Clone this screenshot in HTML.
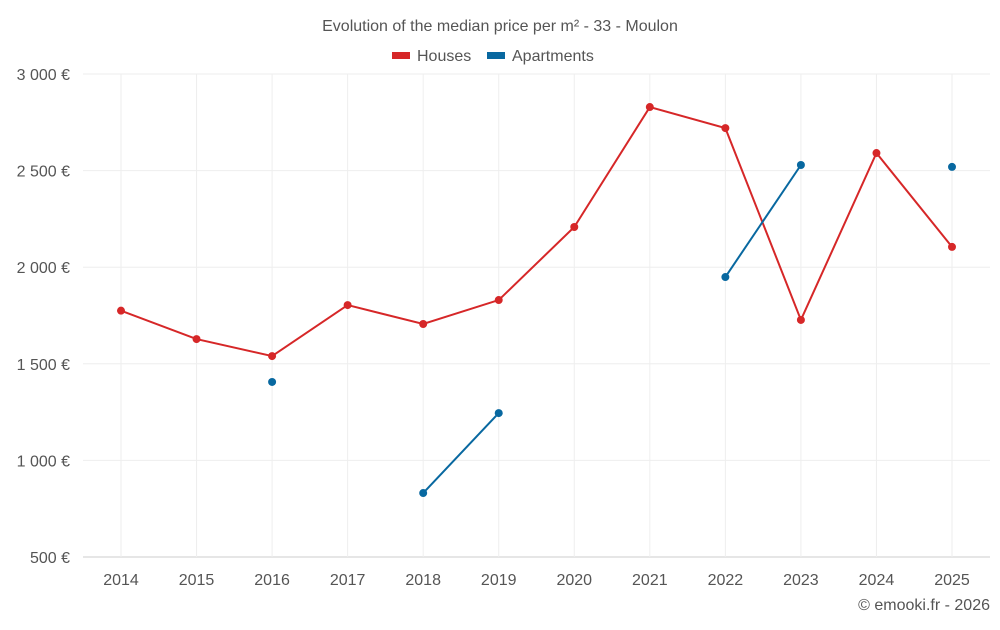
<!DOCTYPE html>
<html><head><meta charset="utf-8"><style>
body{margin:0;background:#fff;font-family:"Liberation Sans",sans-serif;}
svg text{font-family:"Liberation Sans",sans-serif;}
</style></head><body>
<svg id="chart" width="1000" height="625">
<text x="500" y="31" text-anchor="middle" font-size="16" fill="#555">Evolution of the median price per m² - 33 - Moulon</text>
<g>
<g><rect x="392" y="52" width="18" height="7" fill="#d62728"/><text x="417" y="61" font-size="16" fill="#555">Houses</text></g>
<g><rect x="487" y="52" width="18" height="7" fill="#0868a0"/><text x="512" y="61" font-size="16" fill="#555">Apartments</text></g>
</g>
<g id="grid"></g><g id="axes"></g><g id="series"></g>
<text x="990" y="610" text-anchor="end" font-size="16" fill="#555">© emooki.fr - 2026</text>
</svg>
<script>
const years=[2014,2015,2016,2017,2018,2019,2020,2021,2022,2023,2024,2025];
const houses=[1775,1628,1540,1804,1706,1830,2208,2829,2720,1727,2591,2105];
const apartments=[null,null,1406,null,831,1245,null,null,1949,2529,null,2519];
const yTicks=[500,1000,1500,2000,2500,3000];
const yTickLabels=["500 €","1 000 €","1 500 €","2 000 €","2 500 €","3 000 €"];
const NS="http://www.w3.org/2000/svg";
const L=83,R=990,T=74,B=557;
const x=i=>121+i*(952-121)/(years.length-1);
const y=v=>B-(v-500)/2500*(B-T);
function mk(tag,attrs,parent){const e=document.createElementNS(NS,tag);for(const k in attrs)e.setAttribute(k,attrs[k]);document.getElementById(parent).appendChild(e);return e;}
yTicks.forEach((t,i)=>{
 const g=mk('line',{x1:L,x2:R,y1:y(t),y2:y(t),stroke:i==0?'#ccc':'#eee'},'grid');
 
 
 const tx=mk('text',{x:70,y:y(t)+6,'text-anchor':'end','font-size':16,fill:'#555'},'axes');
 tx.textContent=yTickLabels[i];
 
 
});
years.forEach((yr,i)=>{
 const g=mk('line',{x1:x(i),x2:x(i),y1:T,y2:B,stroke:'#eee'},'grid');
 
 
 const tx=mk('text',{x:x(i),y:585,'text-anchor':'middle','font-size':16,fill:'#555'},'axes');
 tx.textContent=yr;
 
 
});
function draw(data,color,name){
 let seg=[];
 const flush=()=>{if(seg.length>1){const p=mk('polyline',{points:seg.join(' '),fill:'none',stroke:color,'stroke-width':2},'series');
 
 }seg=[];};
 data.forEach((v,i)=>{if(v==null){flush();return;}seg.push(x(i)+','+y(v));});
 flush();
 data.forEach((v,i)=>{if(v==null)return;const c=mk('circle',{cx:x(i),cy:y(v),r:4,fill:color},'series');
 
 });
}
draw(houses,'#d62728','houses');
draw(apartments,'#0868a0','apartments');
</script>
</body></html>
